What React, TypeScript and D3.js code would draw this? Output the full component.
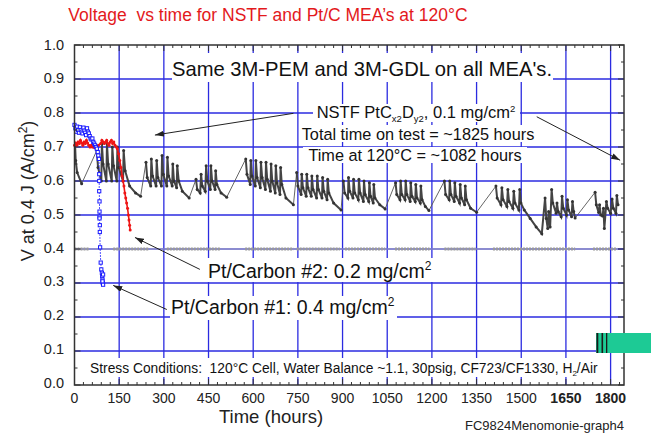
import React from "react";
import * as d3 from "d3";

type Pt = [number, number];

// axis ticks
const xTicks = [0, 150, 300, 450, 600, 750, 900, 1050, 1200, 1350, 1500, 1650, 1800];
const yTicks = [0, 0.1, 0.2, 0.3, 0.4, 0.5, 0.6, 0.7, 0.8, 0.9, 1.0];
const boldXTicks = [1650, 1800];

// NSTF MEA, V at 0.4 A/cm2 (hours, volts), one array per run at 120C
const nstfGroups: Pt[][] = [
  [[2, 0.705], [4, 0.66], [9, 0.625], [24, 0.592]],
  [[75, 0.69], [79, 0.64], [90, 0.6], [92, 0.71], [96, 0.65], [107, 0.6], [109, 0.71], [113, 0.65], [125, 0.6],
   [127, 0.7], [131, 0.645], [142, 0.6], [144, 0.7], [148, 0.64], [163, 0.6], [165, 0.69], [170, 0.63],
   [185, 0.585], [205, 0.565], [222, 0.555]],
  [[240, 0.655], [244, 0.61], [256, 0.585], [258, 0.665], [262, 0.615], [274, 0.585], [276, 0.66], [280, 0.61],
   [292, 0.585], [294, 0.675], [298, 0.62], [310, 0.585], [312, 0.67], [316, 0.615], [328, 0.585], [330, 0.65],
   [334, 0.6], [343, 0.58], [345, 0.645], [350, 0.6], [362, 0.57], [385, 0.55]],
  [[408, 0.605], [412, 0.575], [422, 0.565], [425, 0.62], [429, 0.585], [439, 0.57], [442, 0.645], [446, 0.6],
   [456, 0.575], [458, 0.645], [462, 0.6], [472, 0.575], [474, 0.63], [478, 0.59], [492, 0.565], [511, 0.552]],
  [[575, 0.665], [579, 0.62], [590, 0.59], [592, 0.66], [596, 0.615], [607, 0.585], [609, 0.66], [613, 0.61],
   [624, 0.58], [626, 0.655], [630, 0.61], [641, 0.575], [643, 0.655], [647, 0.605], [658, 0.57], [660, 0.65],
   [664, 0.6], [674, 0.565], [676, 0.645], [680, 0.595], [690, 0.56], [692, 0.64], [696, 0.59], [710, 0.55],
   [735, 0.53]],
  [[746, 0.625], [750, 0.585], [761, 0.56], [763, 0.62], [767, 0.58], [778, 0.555], [780, 0.62], [784, 0.58],
   [795, 0.555], [797, 0.615], [801, 0.575], [813, 0.55], [815, 0.615], [819, 0.575], [831, 0.55], [833, 0.61],
   [837, 0.57], [848, 0.545], [850, 0.605], [854, 0.565], [870, 0.535], [895, 0.515]],
  [[903, 0.6], [907, 0.565], [918, 0.55], [920, 0.61], [924, 0.57], [935, 0.55], [937, 0.605], [941, 0.565],
   [953, 0.545], [955, 0.605], [959, 0.565], [970, 0.54], [972, 0.6], [976, 0.56], [988, 0.54], [990, 0.595],
   [994, 0.555], [1003, 0.535], [1005, 0.59], [1009, 0.55], [1025, 0.53], [1043, 0.518]],
  [[1078, 0.595], [1082, 0.56], [1093, 0.545], [1095, 0.6], [1099, 0.56], [1110, 0.545], [1112, 0.6], [1116, 0.56],
   [1127, 0.54], [1129, 0.595], [1133, 0.555], [1144, 0.54], [1146, 0.59], [1150, 0.55], [1161, 0.535],
   [1163, 0.585], [1167, 0.545], [1178, 0.525], [1190, 0.513]],
  [[1242, 0.6], [1246, 0.56], [1258, 0.545], [1260, 0.6], [1264, 0.56], [1275, 0.54], [1277, 0.595], [1281, 0.555],
   [1293, 0.535], [1295, 0.59], [1299, 0.55], [1310, 0.53], [1312, 0.585], [1316, 0.545], [1330, 0.52],
   [1350, 0.508]],
  [[1415, 0.585], [1419, 0.55], [1432, 0.53], [1435, 0.58], [1439, 0.545], [1452, 0.525], [1455, 0.575],
   [1459, 0.54], [1472, 0.52], [1475, 0.57], [1479, 0.535], [1492, 0.515], [1495, 0.575], [1499, 0.535],
   [1510, 0.515], [1530, 0.49], [1550, 0.465], [1569, 0.445], [1580, 0.55], [1584, 0.49], [1589, 0.46],
   [1592, 0.51], [1597, 0.465], [1602, 0.575], [1606, 0.535], [1617, 0.505], [1620, 0.535], [1624, 0.51],
   [1634, 0.495], [1637, 0.555], [1641, 0.52], [1652, 0.5], [1655, 0.545], [1659, 0.515], [1669, 0.495],
   [1672, 0.54], [1676, 0.51], [1681, 0.491]],
  [[1748, 0.567], [1752, 0.53], [1760, 0.507], [1763, 0.53], [1767, 0.5], [1773, 0.497], [1776, 0.52],
   [1779, 0.46], [1786, 0.54], [1790, 0.52], [1800, 0.505], [1805, 0.547], [1809, 0.52], [1818, 0.505],
   [1821, 0.557], [1825, 0.53]],
];

// Pt/Carbon #1: 0.4 mg/cm2
const ptCarbon1: Pt[] = [
  [0, 0.765], [3, 0.755], [6, 0.745], [9, 0.76], [12, 0.75], [15, 0.742], [18, 0.758], [21, 0.75], [24, 0.745],
  [27, 0.74], [30, 0.757], [33, 0.748], [36, 0.742], [39, 0.735], [42, 0.755], [45, 0.745], [48, 0.74],
  [51, 0.732], [54, 0.725], [57, 0.722], [60, 0.725], [63, 0.715], [66, 0.71], [69, 0.705], [72, 0.7],
  [75, 0.695], [78, 0.685], [80, 0.675], [82, 0.665], [83, 0.62], [83, 0.6], [83, 0.57], [84, 0.54],
  [84, 0.51], [84, 0.495], [84, 0.49], [85, 0.47], [85, 0.45], [86, 0.405], [88, 0.36], [90, 0.34],
  [92, 0.33], [93, 0.32], [94, 0.31], [95, 0.3], [96, 0.295], [94, 0.305], [96, 0.325],
];

// Pt/Carbon #2: 0.2 mg/cm2
const ptCarbon2: Pt[] = [
  [0, 0.705], [4, 0.712], [8, 0.705], [12, 0.715], [16, 0.71], [20, 0.72], [24, 0.712], [28, 0.705],
  [32, 0.715], [36, 0.71], [40, 0.72], [44, 0.712], [48, 0.705], [52, 0.7], [56, 0.705], [60, 0.7],
  [64, 0.7], [68, 0.698], [72, 0.7], [80, 0.705], [88, 0.71], [92, 0.72], [96, 0.715], [100, 0.71],
  [104, 0.715], [108, 0.72], [112, 0.71], [116, 0.705], [120, 0.715], [124, 0.72], [128, 0.71], [132, 0.715],
  [136, 0.705], [140, 0.7], [144, 0.695], [148, 0.68], [152, 0.66], [156, 0.64], [160, 0.615], [163, 0.6],
  [166, 0.585], [169, 0.565], [172, 0.55], [175, 0.535], [178, 0.52], [181, 0.5], [183, 0.485], [185, 0.47],
  [187, 0.456],
];

// 120C periods, plotted as a marker row at 0.4 V
const hotLevel = 0.4;
const hotSpan: Pt = [0, 1825];
const hotPeriods: Pt[] = [
  [0, 50], [130, 250], [310, 490], [573, 735], [746, 891], [908, 1043], [1076, 1192], [1242, 1347],
  [1405, 1681], [1741, 1822],
];

// annotation arrows (hours, volts)
const arrows: { from: Pt; to: Pt }[] = [
  { from: [735, 0.799], to: [270, 0.735] },
  { from: [1552, 0.789], to: [1832, 0.661] },
  { from: [421, 0.34], to: [203, 0.434] },
  { from: [310, 0.222], to: [130, 0.293] },
];

const font = "'Liberation Sans', Arial, sans-serif";

export default function App() {
  const width = 651;
  const height = 435;
  const x = d3.scaleLinear().domain([0, 1845]).range([74.5, 624]);
  const y = d3.scaleLinear().domain([0, 1]).range([385, 45]);
  const line = d3.line<Pt>().x((d) => x(d[0])).y((d) => y(d[1]));

  const [x0, x1] = x.range();
  const [yb, yt] = y.range();
  const minorX = d3.range(0, 1845, 30);
  const minorY = d3.range(0, 1.001, 0.05);
  const connectors = nstfGroups.slice(1).map((g, i) => {
    const prev = nstfGroups[i];
    return [prev[prev.length - 1], g[0]] as Pt[];
  });
  const grid = "#2b2be0";

  return (
    <svg
      width={width}
      height={height}
      style={{ position: "absolute", left: 0, top: 0, background: "#fff" }}
      fontFamily={font}
    >
      <defs>
        <marker id="arrowhead" markerWidth="9" markerHeight="6" refX="9" refY="3" orient="auto" markerUnits="userSpaceOnUse">
          <path d="M0,0 L9,3 L0,6 z" fill="#222" />
        </marker>
      </defs>

      {/* title */}
      <text x={268} y={21} textAnchor="middle" fontSize={17.5} fill="#e3191c" style={{ whiteSpace: "pre" }}>
        {"Voltage  vs time for NSTF and Pt/C MEA\u2019s at 120\u00b0C"}
      </text>

      {/* grid */}
      {xTicks.filter((t) => t > 0).map((t) => (
        <line key={"gx" + t} x1={x(t)} x2={x(t)} y1={yt} y2={yb} stroke={grid} strokeWidth={1.3} />
      ))}
      {yTicks.filter((t) => t > 0 && t < 1).map((t) => (
        <line key={"gy" + t} x1={x0} x2={x1} y1={y(t)} y2={y(t)} stroke={grid} strokeWidth={1.3} />
      ))}

      {/* white label backgrounds */}
      <rect x={172} y={53} width={381} height={29} fill="#fff" />
      <rect x={313} y={104} width={207} height={18} fill="#fff" />
      <rect x={300} y={125} width={238} height={17} fill="#fff" />
      <rect x={303} y={147} width={224} height={16} fill="#fff" />
      <rect x={206} y={258} width={228} height={24} fill="#fff" />
      <rect x={170} y={296} width={227} height={24} fill="#fff" />
      <rect x={88} y={358} width={517} height={19} fill="#fff" />

      {/* 120C marker row */}
      <line x1={x(hotSpan[0])} x2={x(hotSpan[1])} y1={y(hotLevel)} y2={y(hotLevel)} stroke="#b8b8b8" strokeWidth={1} />
      {hotPeriods.map(([a, b], i) => (
        <line key={"hp" + i} x1={x(a)} x2={x(b)} y1={y(hotLevel)} y2={y(hotLevel)} stroke="#9a9a9a" strokeWidth={3} strokeDasharray="2,1" />
      ))}

      {/* NSTF */}
      {connectors.map((c, i) => (
        <path key={"c" + i} d={line(c) ?? ""} fill="none" stroke="#555" strokeWidth={0.9} />
      ))}
      {nstfGroups.map((g, i) => (
        <path key={"g" + i} d={line(g) ?? ""} fill="none" stroke="#444" strokeWidth={2} />
      ))}
      {nstfGroups.flat().map((d, i) => (
        <circle key={"n" + i} cx={x(d[0])} cy={y(d[1])} r={1.5} fill="#333" />
      ))}

      {/* Pt/Carbon #2 */}
      <path d={line(ptCarbon2) ?? ""} fill="none" stroke="#ee1515" strokeWidth={1.6} />
      {ptCarbon2.map((d, i) => (
        <circle key={"r" + i} cx={x(d[0])} cy={y(d[1])} r={1.5} fill="#ee1515" />
      ))}

      {/* Pt/Carbon #1 */}
      <path d={line(ptCarbon1) ?? ""} fill="none" stroke="#1a1aff" strokeWidth={1} strokeDasharray="1.5,1.5" />
      {ptCarbon1.map((d, i) => (
        <rect key={"b" + i} x={x(d[0]) - 1.6} y={y(d[1]) - 1.6} width={3.2} height={3.2} fill="#fff" stroke="#1a1aff" strokeWidth={1} />
      ))}

      {/* frame and ticks */}
      <rect x={x0} y={yt} width={x1 - x0} height={yb - yt} fill="none" stroke="#333" strokeWidth={1.5} />
      {minorX.map((t) => {
        const len = t % 150 === 0 ? 6 : 3;
        return (
          <g key={"tx" + t}>
            <line x1={x(t)} x2={x(t)} y1={yb} y2={yb - len} stroke="#333" />
            <line x1={x(t)} x2={x(t)} y1={yt} y2={yt + len} stroke="#333" />
          </g>
        );
      })}
      {minorY.map((t, i) => {
        const len = i % 2 === 0 ? 6 : 3;
        return (
          <g key={"ty" + i}>
            <line x1={x0} x2={x0 + len} y1={y(t)} y2={y(t)} stroke="#333" />
            <line x1={x1} x2={x1 - len} y1={y(t)} y2={y(t)} stroke="#333" />
          </g>
        );
      })}

      {/* tick labels */}
      {yTicks.map((t) => (
        <text key={"ly" + t} x={64} y={y(t) + 3 + t * 1.5} textAnchor="end" fontSize={14.5} fill="#222">
          {t.toFixed(1)}
        </text>
      ))}
      {xTicks.map((t) => (
        <text
          key={"lx" + t}
          x={x(t)}
          y={403}
          textAnchor="middle"
          fontSize={14}
          fill="#222"
          fontWeight={boldXTicks.includes(t) ? "bold" : "normal"}
        >
          {t}
        </text>
      ))}

      {/* axis titles */}
      <text x={271} y={423} textAnchor="middle" fontSize={18.5} fill="#222">
        Time (hours)
      </text>
      <text transform="translate(34,191) rotate(-90)" textAnchor="middle" fontSize={18} fill="#222">
        V at 0.4 J (A/cm<tspan dy={-7} fontSize={12}>2</tspan>
        <tspan dy={7}>)</tspan>
      </text>
      <text x={465} y={430} fontSize={13} fill="#222">
        FC9824Menomonie-graph4
      </text>

      {/* annotations */}
      {arrows.map((a, i) => (
        <line
          key={"a" + i}
          x1={x(a.from[0])}
          y1={y(a.from[1])}
          x2={x(a.to[0])}
          y2={y(a.to[1])}
          stroke="#222"
          strokeWidth={1}
          markerEnd="url(#arrowhead)"
        />
      ))}
      <text x={362} y={76} textAnchor="middle" fontSize={20.2} fill="#111">
        Same 3M-PEM and 3M-GDL on all MEA's.
      </text>
      <text x={416} y={118} textAnchor="middle" fontSize={16.5} fill="#111">
        NSTF PtC<tspan dy={4} fontSize={9.5}>x2</tspan>
        <tspan dy={-4}>D</tspan>
        <tspan dy={4} fontSize={9.5}>y2</tspan>
        <tspan dy={-4}>, 0.1 mg/cm</tspan>
        <tspan dy={-6} fontSize={9.5}>2</tspan>
      </text>
      <text x={418} y={140} textAnchor="middle" fontSize={16.3} fill="#111">
        Total time on test = ~1825 hours
      </text>
      <text x={415} y={161} textAnchor="middle" fontSize={16.3} fill="#111">
        Time at 120°C = ~1082 hours
      </text>
      <text x={208} y={278} fontSize={19.5} fill="#111">
        Pt/Carbon #2: 0.2 mg/cm<tspan dy={-8} fontSize={12}>2</tspan>
      </text>
      <text x={171} y={314} fontSize={19.5} fill="#111">
        Pt/Carbon #1: 0.4 mg/cm<tspan dy={-8} fontSize={12}>2</tspan>
      </text>
      <text x={90} y={373} fontSize={13.8} fill="#111" style={{ whiteSpace: "pre" }}>
        {"Stress Conditions:  120°C Cell, Water Balance ~1.1, 30psig, CF723/CF1330, H"}
        <tspan dy={3} fontSize={8}>2</tspan>
        <tspan dy={-3}>/Air</tspan>
      </text>

      {/* stray slide element at right */}
      <rect x={596} y={333} width={55} height={20} fill="#1dca95" />
      <rect x={596.5} y={333} width={1.8} height={20} fill="#1a1a1a" />
      <rect x={601.5} y={333} width={1.6} height={20} fill="#1a1a1a" />
      <rect x={606} y={333} width={1.3} height={20} fill="#1a1a1a" />
    </svg>
  );
}
